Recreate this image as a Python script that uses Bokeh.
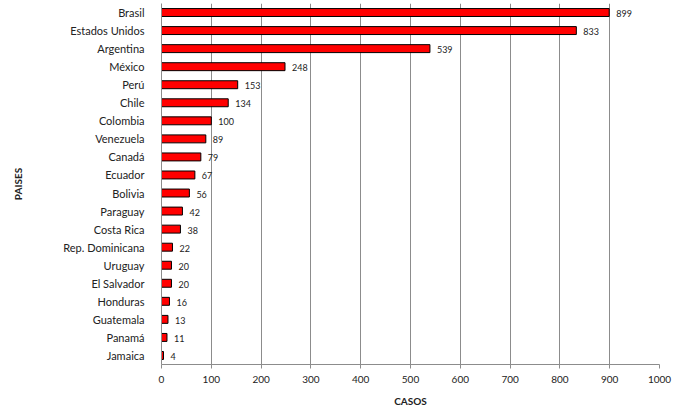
from bokeh.plotting import figure
from bokeh.models import ColumnDataSource, FixedTicker, Label
from bokeh.core.properties import value
from bokeh.embed import file_html
from bokeh.resources import INLINE

countries = ["Brasil", "Estados Unidos", "Argentina", "México", "Perú", "Chile",
             "Colombia", "Venezuela", "Canadá", "Ecuador", "Bolivia", "Paraguay",
             "Costa Rica", "Rep. Dominicana", "Uruguay", "El Salvador", "Honduras",
             "Guatemala", "Panamá", "Jamaica"]
cases = [899, 833, 539, 248, 153, 134, 100, 89, 79, 67, 56, 42, 38, 22, 20, 20, 16, 13, 11, 4]
x_ticks = [0, 100, 200, 300, 400, 500, 600, 700, 800, 900, 1000]

FONT = "Lato"

src = ColumnDataSource(dict(country=countries, cases=cases,
                            label=[str(v) for v in cases]))

p = figure(width=684, height=414, y_range=list(reversed(countries)),
           x_range=(0, 1000), output_backend="svg", toolbar_location=None,
           min_border_left=161, min_border_right=25, min_border_top=3,
           min_border_bottom=50)

p.hbar(y="country", right="cases", left=0, height=0.44, source=src,
       fill_color="#ff0000", line_color="#000000", line_width=1)
p.text(x="cases", y="country", text="label", source=src, x_offset=7, y_offset=1,
       text_baseline="middle", text_align="left", text_font_size="9px",
       text_font=value(FONT), text_color="#222222")

p.outline_line_color = None
p.background_fill_color = "white"
p.border_fill_color = "white"

p.ygrid.grid_line_color = None
p.xgrid.grid_line_color = "#8c8c8c"
p.xgrid.ticker = FixedTicker(ticks=x_ticks)

p.xaxis.ticker = FixedTicker(ticks=x_ticks)
p.xaxis.axis_line_color = "#8c8c8c"
p.xaxis.major_tick_line_color = "#8c8c8c"
p.xaxis.major_tick_out = 4
p.xaxis.major_tick_in = 0
p.xaxis.minor_tick_line_color = None
p.xaxis.major_label_text_font = FONT
p.xaxis.major_label_text_font_size = "10px"
p.xaxis.major_label_text_color = "#222222"
p.xaxis.major_label_standoff = 7
p.xaxis.axis_label = "CASOS"
p.xaxis.axis_label_text_font = FONT
p.xaxis.axis_label_text_font_style = "bold"
p.xaxis.axis_label_text_font_size = "10px"
p.xaxis.axis_label_text_color = "#222222"
p.xaxis.axis_label_standoff = 9

p.yaxis.axis_line_color = "#8c8c8c"
p.yaxis.major_tick_line_color = None
p.yaxis.minor_tick_line_color = None
p.yaxis.major_label_text_font = FONT
p.yaxis.major_label_text_font_size = "11px"
p.yaxis.major_label_text_color = "#222222"
p.yaxis.major_label_standoff = 11
p.yaxis.axis_label = "PAISES"
p.yaxis.axis_label_text_font = FONT
p.yaxis.axis_label_text_font_style = "bold"
p.yaxis.axis_label_text_font_size = "10px"
p.yaxis.axis_label_text_color = "#222222"
p.yaxis.axis_label_standoff = 36

p.add_layout(Label(x=-150, y=-45, x_units="screen", y_units="screen", text="Fuente: OPS",
                   text_font=FONT, text_font_size="7px", text_color="#555555",
                   text_baseline="middle"), "center")

open("out.html", "w").write(file_html(p, INLINE))
